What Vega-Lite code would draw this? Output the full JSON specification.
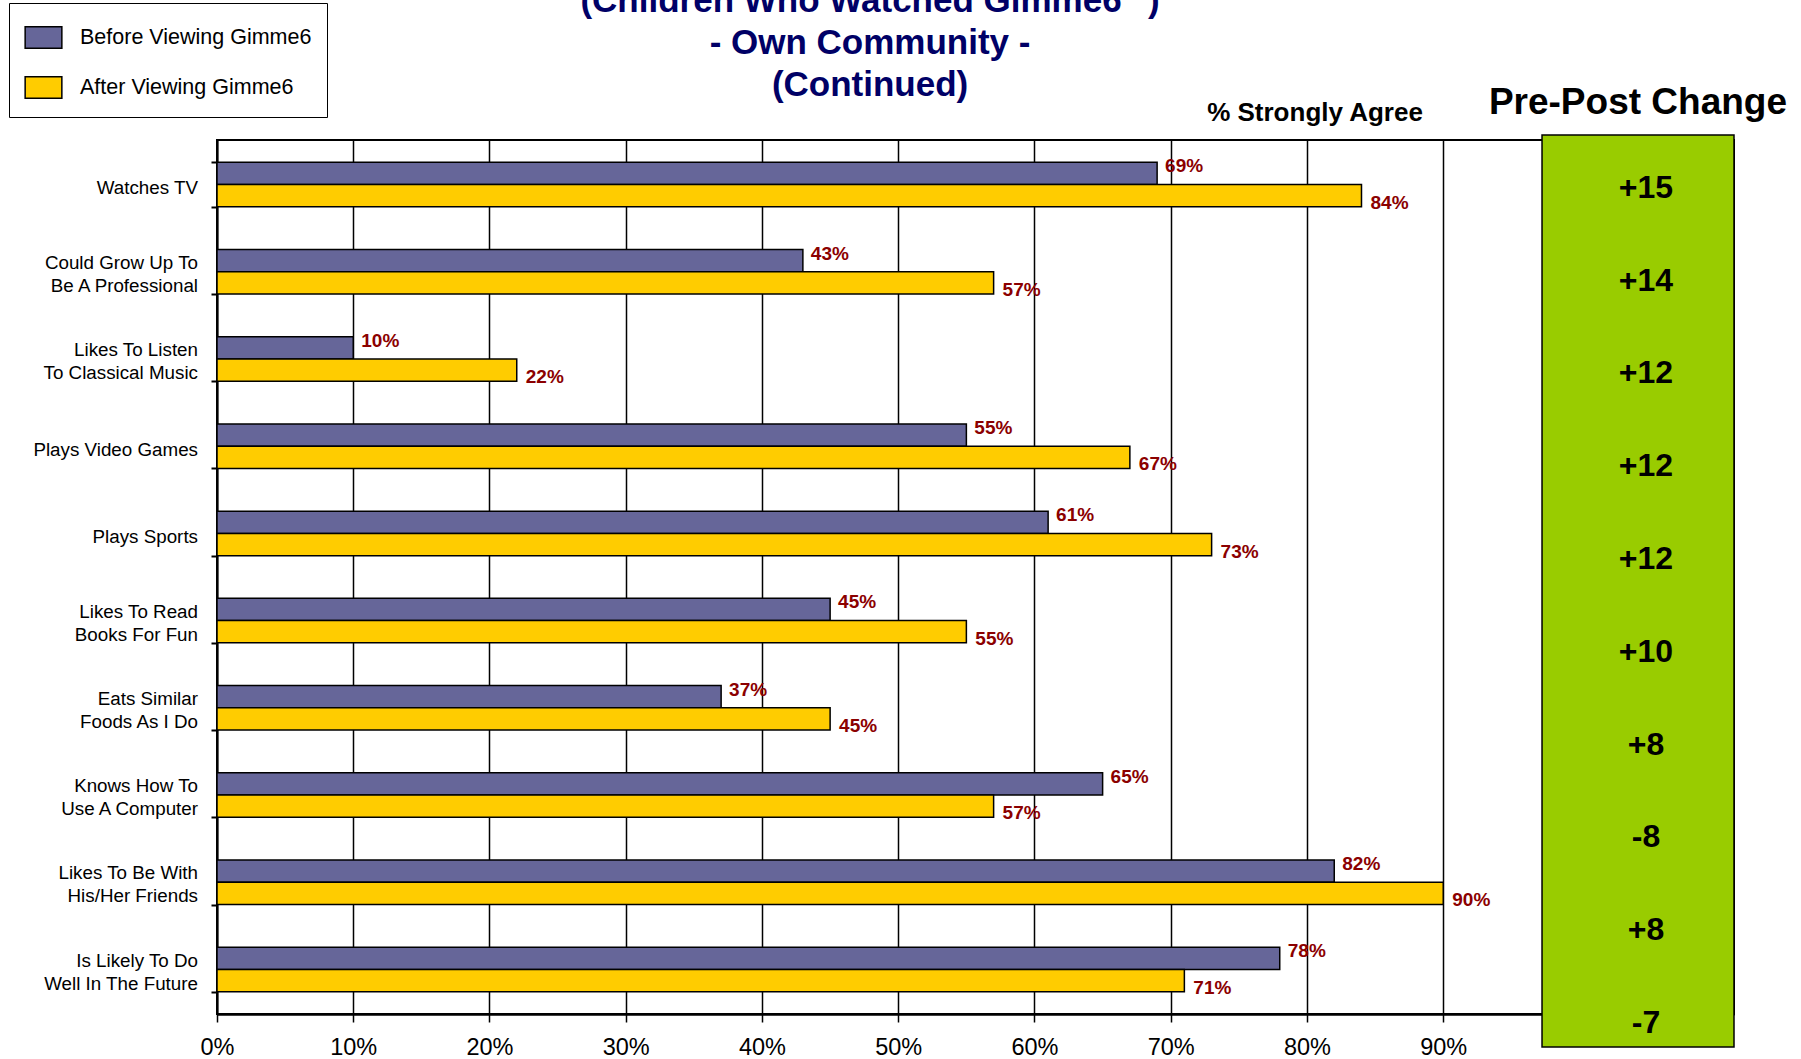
{
  "$schema": "https://vega.github.io/schema/vega-lite/v6.json",
  "width": 1517,
  "height": 874,
  "autosize": {"type": "none"},
  "padding": {"left": 217, "top": 140, "right": 67, "bottom": 45},
  "background": "white",
  "config": {
    "font": "Liberation Sans",
    "view": {"stroke": "black", "strokeWidth": 2}
  },
  "datasets": {
    "bars": [
      {"item": "Watches TV", "series": "Before Viewing Gimme6", "value": 0.69},
      {"item": "Watches TV", "series": "After Viewing Gimme6", "value": 0.84},
      {"item": "Could Grow Up To\nBe A Professional", "series": "Before Viewing Gimme6", "value": 0.43},
      {"item": "Could Grow Up To\nBe A Professional", "series": "After Viewing Gimme6", "value": 0.57},
      {"item": "Likes To Listen\nTo Classical Music", "series": "Before Viewing Gimme6", "value": 0.10},
      {"item": "Likes To Listen\nTo Classical Music", "series": "After Viewing Gimme6", "value": 0.22},
      {"item": "Plays Video Games", "series": "Before Viewing Gimme6", "value": 0.55},
      {"item": "Plays Video Games", "series": "After Viewing Gimme6", "value": 0.67},
      {"item": "Plays Sports", "series": "Before Viewing Gimme6", "value": 0.61},
      {"item": "Plays Sports", "series": "After Viewing Gimme6", "value": 0.73},
      {"item": "Likes To Read\nBooks For Fun", "series": "Before Viewing Gimme6", "value": 0.45},
      {"item": "Likes To Read\nBooks For Fun", "series": "After Viewing Gimme6", "value": 0.55},
      {"item": "Eats Similar\nFoods As I Do", "series": "Before Viewing Gimme6", "value": 0.37},
      {"item": "Eats Similar\nFoods As I Do", "series": "After Viewing Gimme6", "value": 0.45},
      {"item": "Knows How To\nUse A Computer", "series": "Before Viewing Gimme6", "value": 0.65},
      {"item": "Knows How To\nUse A Computer", "series": "After Viewing Gimme6", "value": 0.57},
      {"item": "Likes To Be With\nHis/Her Friends", "series": "Before Viewing Gimme6", "value": 0.82},
      {"item": "Likes To Be With\nHis/Her Friends", "series": "After Viewing Gimme6", "value": 0.90},
      {"item": "Is Likely To Do\nWell In The Future", "series": "Before Viewing Gimme6", "value": 0.78},
      {"item": "Is Likely To Do\nWell In The Future", "series": "After Viewing Gimme6", "value": 0.71}
    ],
    "change": [
      {"idx": 0, "label": "+15"},
      {"idx": 1, "label": "+14"},
      {"idx": 2, "label": "+12"},
      {"idx": 3, "label": "+12"},
      {"idx": 4, "label": "+12"},
      {"idx": 5, "label": "+10"},
      {"idx": 6, "label": "+8"},
      {"idx": 7, "label": "-8"},
      {"idx": 8, "label": "+8"},
      {"idx": 9, "label": "-7"}
    ]
  },
  "resolve": {"scale": {"x": "independent", "y": "independent"}},
  "layer": [
    {
      "data": {"name": "bars"},
      "encoding": {
        "y": {
          "field": "item", "type": "nominal", "sort": null,
          "scale": {"paddingInner": 0.49, "paddingOuter": 0.255},
          "axis": {
            "title": null,
            "labels": false,
            "tickBand": "extent",
            "tickSize": 6,
            "tickColor": "black",
            "tickWidth": 2,
            "domainColor": "black",
            "domainWidth": 2,
            "grid": false
          }
        },
        "x": {
          "field": "value", "type": "quantitative",
          "scale": {"domain": [0, 1.1134], "nice": false, "zero": true},
          "axis": {
            "title": null,
            "values": [0, 0.1, 0.2, 0.3, 0.4, 0.5, 0.6, 0.7, 0.8, 0.9],
            "format": ".0%",
            "labelFont": "Liberation Sans",
            "labelFontSize": 23.5,
            "labelColor": "black",
            "labelPadding": 13,
            "labelFlush": false,
            "labelOverlap": false,
            "tickSize": 8,
            "tickColor": "black",
            "tickWidth": 1.5,
            "domainColor": "black",
            "domainWidth": 2.5,
            "grid": true,
            "gridColor": "black",
            "gridWidth": 1.5,
            "gridOpacity": 1
          }
        }
      },
      "layer": [
        {
          "mark": {"type": "bar", "stroke": "black", "strokeWidth": 1.5},
          "encoding": {
            "yOffset": {"field": "series", "type": "nominal", "sort": ["Before Viewing Gimme6", "After Viewing Gimme6"]},
            "color": {
              "field": "series", "type": "nominal",
              "scale": {"domain": ["Before Viewing Gimme6", "After Viewing Gimme6"], "range": ["#666699", "#FFCC00"]},
              "legend": {
                "title": null,
                "orient": "none",
                "legendX": -208,
                "legendY": -137,
                "direction": "vertical",
                "symbolType": "M-1,-0.589H1V0.589H-1Z",
                "symbolSize": 1347,
                "symbolStrokeColor": "black",
                "symbolStrokeWidth": 1.5,
                "symbolOpacity": 1,
                "labelFont": "Liberation Sans",
                "labelFontSize": 21.5,
                "labelColor": "black",
                "labelOffset": 17,
                "labelLimit": 400,
                "rowPadding": 16,
                "padding": 15,
                "strokeColor": "black",
                "fillColor": "white"
              }
            }
          }
        },
        {
          "transform": [{"filter": "datum.series === 'Before Viewing Gimme6'"}],
          "mark": {"type": "text", "align": "left", "baseline": "middle", "dx": 8, "dy": -7, "fontWeight": "bold", "fontSize": 19, "color": "#8B0000"},
          "encoding": {
            "yOffset": {"field": "series", "type": "nominal", "sort": ["Before Viewing Gimme6", "After Viewing Gimme6"]},
            "text": {"field": "value", "format": ".0%"}
          }
        },
        {
          "transform": [{"filter": "datum.series === 'After Viewing Gimme6'"}],
          "mark": {"type": "text", "align": "left", "baseline": "middle", "dx": 9, "dy": 7, "fontWeight": "bold", "fontSize": 19, "color": "#8B0000"},
          "encoding": {
            "yOffset": {"field": "series", "type": "nominal", "sort": ["Before Viewing Gimme6", "After Viewing Gimme6"]},
            "text": {"field": "value", "format": ".0%"}
          }
        },
        {
          "transform": [{"filter": "datum.series === 'Before Viewing Gimme6' && indexof(datum.item, '\\n') < 0"}],
          "mark": {"type": "text", "align": "right", "baseline": "middle", "dx": -19, "dy": 4, "fontSize": 18.8, "color": "black"},
          "encoding": {
            "x": {"datum": 0, "type": "quantitative"},
            "text": {"field": "item"}
          }
        },
        {
          "transform": [{"filter": "datum.series === 'Before Viewing Gimme6' && indexof(datum.item, '\\n') >= 0"}],
          "mark": {"type": "text", "align": "right", "baseline": "middle", "dx": -19, "dy": -9, "fontSize": 18.8, "lineHeight": 23, "lineBreak": "\n", "color": "black"},
          "encoding": {
            "x": {"datum": 0, "type": "quantitative"},
            "text": {"field": "item"}
          }
        }
      ]
    },
    {
      "layer": [
        {
          "data": {"values": [{}]},
          "mark": {"type": "rect", "fill": "#99CC00", "stroke": "black", "strokeWidth": 1.5},
          "encoding": {
            "x": {"datum": 0.9725, "type": "quantitative", "scale": {"domain": [0, 1.1134], "nice": false, "zero": false}, "axis": null},
            "x2": {"datum": 1.1134},
            "y": {"datum": -0.569, "type": "quantitative", "scale": {"domain": [-0.515, 8.903], "reverse": true, "nice": false, "zero": false}, "axis": null},
            "y2": {"datum": 9.259}
          }
        },
        {
          "data": {"name": "change"},
          "mark": {"type": "text", "align": "center", "baseline": "middle", "fontWeight": "bold", "fontSize": 32, "color": "black"},
          "encoding": {
            "x": {"datum": 1.0488, "type": "quantitative", "scale": {"domain": [0, 1.1134], "nice": false, "zero": false}, "axis": null},
            "y": {"field": "idx", "type": "quantitative", "scale": {"domain": [-0.515, 8.903], "reverse": true, "nice": false, "zero": false}, "axis": null},
            "text": {"field": "label"}
          }
        },
        {
          "data": {"values": [{}]},
          "mark": {"type": "text", "text": "% Strongly Agree", "align": "center", "baseline": "middle", "fontWeight": "bold", "fontSize": 26, "color": "black"},
          "encoding": {
            "x": {"datum": 0.8059, "type": "quantitative", "scale": {"domain": [0, 1.1134], "nice": false, "zero": false}, "axis": null},
            "y": {"datum": -0.806, "type": "quantitative", "scale": {"domain": [-0.515, 8.903], "reverse": true, "nice": false, "zero": false}, "axis": null}
          }
        },
        {
          "data": {"values": [{}]},
          "mark": {"type": "text", "text": "Pre-Post Change", "align": "center", "baseline": "middle", "fontWeight": "bold", "fontSize": 37, "color": "black"},
          "encoding": {
            "x": {"datum": 1.0429, "type": "quantitative", "scale": {"domain": [0, 1.1134], "nice": false, "zero": false}, "axis": null},
            "y": {"datum": -0.914, "type": "quantitative", "scale": {"domain": [-0.515, 8.903], "reverse": true, "nice": false, "zero": false}, "axis": null}
          }
        },
        {
          "data": {"values": [{}]},
          "mark": {"type": "text", "text": "(Children Who Watched Gimme6\" )", "align": "center", "baseline": "alphabetic", "fontWeight": "bold", "fontSize": 35, "color": "#000066"},
          "encoding": {
            "x": {"datum": 0.4793, "type": "quantitative", "scale": {"domain": [0, 1.1134], "nice": false, "zero": false}, "axis": null},
            "y": {"datum": -1.894, "type": "quantitative", "scale": {"domain": [-0.515, 8.903], "reverse": true, "nice": false, "zero": false}, "axis": null}
          }
        },
        {
          "data": {"values": [{}]},
          "mark": {"type": "text", "text": "- Own Community -", "align": "center", "baseline": "alphabetic", "fontWeight": "bold", "fontSize": 35, "color": "#000066"},
          "encoding": {
            "x": {"datum": 0.4793, "type": "quantitative", "scale": {"domain": [0, 1.1134], "nice": false, "zero": false}, "axis": null},
            "y": {"datum": -1.442, "type": "quantitative", "scale": {"domain": [-0.515, 8.903], "reverse": true, "nice": false, "zero": false}, "axis": null}
          }
        },
        {
          "data": {"values": [{}]},
          "mark": {"type": "text", "text": "(Continued)", "align": "center", "baseline": "alphabetic", "fontWeight": "bold", "fontSize": 35, "color": "#000066"},
          "encoding": {
            "x": {"datum": 0.4793, "type": "quantitative", "scale": {"domain": [0, 1.1134], "nice": false, "zero": false}, "axis": null},
            "y": {"datum": -0.989, "type": "quantitative", "scale": {"domain": [-0.515, 8.903], "reverse": true, "nice": false, "zero": false}, "axis": null}
          }
        }
      ]
    }
  ]
}
